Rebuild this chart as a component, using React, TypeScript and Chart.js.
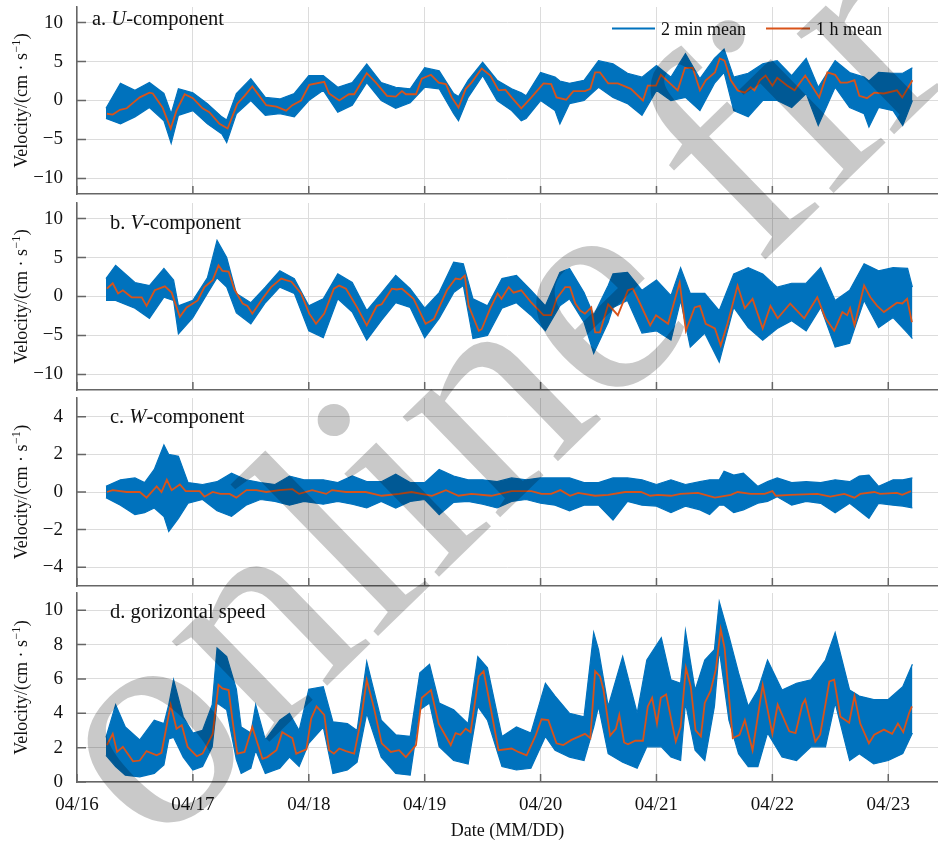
import React, { useEffect, useRef } from 'react';
import { Chart, registerables } from 'chart.js';

Chart.register(...registerables);

// ---------- axis / labels ----------
const DATE_LABELS = ['04/16', '04/17', '04/18', '04/19', '04/20', '04/21', '04/22', '04/23'];
const DATE_TICK_HOURS = [0, 24, 48, 72, 96, 120, 144, 168]; // hours since 04/16 00:00
const LEGEND_LABELS = ['2 min mean', '1 h mean'];
const X_TITLE = 'Date (MM/DD)';
const Y_TITLE_MAIN = 'Velocity/(cm \u00b7 s';
const Y_TITLE_SUP = '\u22121';
const Y_TITLE_END = ')';
const WATERMARK = 'online first';

const UV_TICKS = [-10, -5, 0, 5, 10];
const W_TICKS = [-4, -2, 0, 2, 4];
const S_TICKS = [0, 2, 4, 6, 8, 10];

// ---------- a. U-component ----------
const U_MEAN_H = [6.2,7.4,8.9,10.3,11.6,13,15,15.7,17.7,19.4,20.6,22.3,24,26,27.4,29.5,31.2,33.2,34.7,36.3,39.2,41.3,43.3,44.6,46.4,48.1,51.2,52.2,54.3,56.3,57.4,60,61.9,64.2,66,67.3,68.1,70.2,71.4,73.3,74.9,76.4,77.6,79,80.5,81.7,83.8,85.6,87.3,88.7,90,92,94.1,96.6,98.2,99.3,101.3,102.8,105.2,106.3,107.3,108.3,110,112,114.7,117.2,118.2,119.9,120.9,122.8,124.4,125.9,127.5,129,130.2,132.1,133.1,134.1,135.4,136.8,138.3,139.5,140.3,141.4,142.6,144,145,147.1,148.6,150.8,153.7,155.4,157,158.1,159.5,161,162,163.6,165.1,167.1,169.8,170.9,173];
const U_MEAN = [-1.7,-1.8,-1.2,-1.0,-0.3,0.4,1.0,0.9,-0.9,-3.6,-1.3,0.8,0.3,-1.0,-1.5,-3.0,-3.6,-0.4,0.6,1.8,-0.6,-0.8,-1.3,-0.6,0.0,2.0,2.4,0.9,0.0,0.8,0.8,3.5,2.3,0.6,0.5,1.2,0.8,0.8,2.8,3.3,2.3,2.1,0.4,-0.9,1.5,2.3,4.1,3.2,1.3,1.4,0.4,-1.0,0.4,2.2,2.1,0.4,0.1,1.2,1.2,1.5,3.6,3.6,2.2,2.2,1.5,0.0,1.9,1.9,3.3,2.2,1.3,4.2,4.2,1.3,2.6,3.6,5.4,5.1,2.6,1.3,1.0,1.7,1.3,2.6,3.2,1.9,2.9,1.9,1.3,3.2,0.4,3.6,3.3,2.3,2.3,2.6,0.6,0.3,1.0,0.9,1.3,0.4,2.6];
const U_RAW_H = [6,9,12,15,18,19.5,21,24,27,30,31,33,36,39,42,45,48,51,54,57,60,63,66,69,72,75,78,79,81,84,87,90,92,93,96,99,100,102,105,108,111,114,117,120,123,126,129,132,134,136,139,142,145,148,151,153.5,157,160,163,164,166,169,171,173];
const U_RAW_HI = [-1.0,2.2,1.3,2.3,0.9,-1.7,1.5,1.0,-0.4,-2.1,-2.5,0.9,2.8,0.4,0.2,0.9,3.2,3.2,1.7,2.3,4.7,2.3,1.7,1.5,4.2,3.8,0.9,0.5,2.6,4.9,2.6,1.5,1.0,0.6,3.6,3.0,2.5,2.2,2.6,5.1,4.7,3.5,3.0,4.5,3.0,6.0,2.8,5.4,6.6,3.0,3.5,4.7,5.1,3.2,5.4,1.7,5.1,3.6,3.0,2.5,3.6,3.5,3.5,4.2];
const U_RAW_LO = [-2.3,-3.0,-2.1,-0.9,-2.6,-5.5,-1.9,-1.3,-3.0,-4.3,-5.4,-1.7,0.0,-1.9,-1.7,-2.1,0.0,1.3,-1.5,-0.6,2.3,0.0,-1.0,-0.3,1.7,1.5,-1.7,-2.6,0.4,3.2,0.0,-1.3,-2.6,-2.3,0.0,-1.3,-3.0,-0.4,0.0,1.7,0.4,-0.4,-1.9,1.3,0.0,0.4,-1.3,2.2,3.6,-1.3,-2.1,0.0,0.0,-0.9,0.9,-3.2,1.7,-0.9,-1.7,-3.4,-0.9,-1.3,-3.2,0.0];

// ---------- b. V-component ----------
const V_MEAN_H = [6.2,7.4,8.5,9.5,11.3,13.4,14.4,16.1,18.2,19.6,21.3,22.7,25,26.4,28.1,29.3,30.1,31.4,32.6,34.3,35.3,36.3,38.4,40.2,42.3,43.3,44.4,46.4,48.1,49.5,51.2,53.2,54.3,55.7,58,60,62.1,63.1,65.2,66.2,67.3,69.7,72.2,73.9,76.6,78.4,79.4,80.3,81.1,83.2,83.8,85.6,87.1,87.9,89.4,90.4,92,94.1,96.6,98.2,99.3,101.1,102.1,103.2,104.2,105.2,106.5,107.3,108.3,110,112,114.1,115.1,116.6,118.7,119.9,122.4,124.8,126.1,127.9,129,130.2,132.1,133.3,134.7,136.8,138.3,139.9,142,143.6,145.1,147.7,150.6,153.3,155,156.8,158.5,159.5,160.1,161,163,164.3,165.7,167.1,169.8,170.9,171.9,172.9];
const V_MEAN = [1.0,1.7,0.4,0.8,-0.1,-0.1,-1.2,0.8,1.3,0.5,-2.6,-1.4,-0.5,1.2,2.1,4.0,3.3,3.2,0.9,-0.9,-1.2,-2.2,-0.3,1.2,2.3,2.1,1.9,0.4,-2.2,-3.5,-2.2,1.0,1.4,1.0,-1.4,-3.7,-1.2,-1.0,1.0,0.9,1.0,-0.3,-3.5,-2.9,0.8,2.3,2.2,2.7,-1.2,-4.4,-4.2,-1.5,0.4,-0.3,1.2,0.5,0.8,-0.8,-2.4,-2.4,-0.3,1.2,1.2,-0.9,-1.8,-2.2,-1.4,-4.6,-4.6,-1.0,-2.4,0.8,1.0,-0.9,-3.7,-2.4,-3.5,1.8,-4.4,-1.4,-1.2,-3.5,-4.1,-6.3,-3.5,1.4,-1.5,-0.3,-4.1,-1.2,-2.8,-0.9,-2.8,-0.1,-2.8,-4.4,-2.0,-2.4,-1.5,-3.7,1.4,-0.1,-1.2,-2.0,-0.8,-0.9,-0.3,-3.3];
const V_RAW_H = [6,8,12,15,18,20,21,24,27,29,31,33,36,39,42,45,48,51,54,57,60,63,66,69,72,75,78,80,82,85,88,91,94,97,100,102,105,107,110,111,114,117,120,123,125,127,130,133,136,139,142,145,148,151,154,157,160,163,166,169,172,173];
const V_RAW_HI = [2.3,4.0,1.8,1.4,3.6,2.1,-1.2,-0.5,2.4,7.2,5.0,0.4,-0.8,1.2,3.3,2.3,-1.2,-0.3,2.9,1.8,-1.8,0.4,2.7,1.0,-1.5,0.5,4.4,4.2,-0.3,-1.2,2.3,2.7,0.8,-1.2,3.1,3.6,0.5,-2.4,1.4,2.9,3.1,0.8,2.1,0.1,3.7,0.4,0.4,-1.8,2.9,3.7,2.9,1.2,1.7,1.7,3.7,-0.5,0.8,4.2,3.3,3.7,3.6,1.2];
const V_RAW_LO = [-0.5,-0.5,-1.5,-2.8,-0.1,-0.5,-4.8,-2.7,0.4,2.4,1.2,-2.1,-3.5,-0.8,1.2,0.4,-4.4,-5.3,-0.3,-2.0,-5.6,-3.1,-0.8,-1.4,-5.3,-2.8,0.5,1.4,-5.4,-5.0,-1.5,-0.8,-2.4,-4.4,-1.2,-0.3,-3.3,-7.3,-3.3,-1.4,-0.5,-4.7,-4.4,-5.6,-0.5,-6.5,-4.7,-8.4,-1.4,-4.0,-5.6,-4.1,-3.1,-4.4,-1.4,-6.5,-6.0,-0.5,-4.0,-2.7,-4.7,-5.4];

// ---------- c. W-component ----------
const W_MEAN_H = [6.2,7.4,10.3,13,14.4,16.5,17.5,18.6,19.6,21.3,22.5,25.4,26.4,28.1,29.7,31.6,33,35.1,37.1,39.2,41.9,44.6,46,48.7,51.6,52.8,55.7,59.8,63.1,66.7,69.3,73.5,76.4,79,81.7,85.8,90,94.1,96.2,98.2,100.1,102.1,103.8,107.3,110,113.5,116.8,118.7,120.3,123,125,128.6,132.1,135.4,136.8,139.5,142.4,144,144.7,147.7,153.3,156,158.9,161,162.2,165.1,166.3,169.8,170.9,172.7];
const W_MEAN = [0,0.1,0,0,-0.3,0.3,0,0.65,0.1,0.4,0.05,0.05,-0.25,0,-0.1,-0.1,-0.3,0.1,0.1,0,0.1,0.15,-0.1,0.1,-0.1,0.1,0,0,-0.2,-0.1,0,-0.2,0.1,-0.2,-0.1,-0.2,0.05,0.05,-0.1,-0.1,0.1,-0.2,-0.05,-0.2,-0.15,0,0,-0.2,-0.15,-0.2,-0.1,-0.05,-0.3,-0.15,0,-0.1,-0.1,0.05,-0.2,-0.15,-0.1,-0.25,-0.1,-0.3,-0.1,0,-0.1,-0.05,-0.15,0.05];
const W_RAW_H = [6,9,12,14,16,18,19,21,23,26,29,32,35,38,41,44,47,51,54,57,60,63,66,69,72,75,78,81,84,87,90,93,96,99,102,105,108,111,114,117,120,123,126,129,131,133,134,136,138,141,143,145,148,151,154,157,160,162,164,166,169,171,173];
const W_RAW_HI = [0.3,0.65,0.75,0.5,1.2,2.5,2.0,1.9,0.5,0.4,0.55,1.0,0.65,0.5,0.4,0.85,0.65,0.65,0.5,0.85,0.55,0.55,0.95,0.5,0.5,1.2,0.85,0.65,0.65,0.55,0.75,0.65,0.75,0.75,0.75,0.5,0.5,0.75,0.75,0.65,0.4,0.65,0.4,0.55,0.65,0.65,1.1,0.9,1.0,0.3,0.55,0.75,0.5,0.55,0.5,0.65,0.55,0.85,0.9,0.3,0.65,0.65,0.75];
const W_RAW_LO = [-0.3,-0.7,-1.2,-1.1,-0.85,-1.3,-2.1,-1.4,-0.6,-0.4,-1.0,-1.3,-0.7,-0.4,-0.5,-0.7,-0.5,-0.65,-0.5,-0.65,-0.85,-0.5,-0.85,-0.5,-0.4,-1.2,-0.55,-0.5,-0.65,-0.85,-0.5,-0.4,-0.6,-0.7,-1.0,-0.7,-0.7,-1.5,-0.5,-0.7,-0.75,-1.1,-0.75,-0.95,-1.2,-0.7,-0.7,-1.1,-0.95,-0.6,-0.5,-0.25,-0.7,-0.5,-0.6,-1.1,-0.6,-1.0,-1.4,-0.6,-0.7,-0.75,-0.85];

// ---------- d. horizontal speed ----------
const S_MEAN_H = [6.2,7.4,8.3,9.5,11.6,13,14.4,16.5,17.5,19.4,20.6,21.7,22.9,24.8,26,28.1,29.3,30.1,31.4,32.2,33.2,34.7,36.3,38.4,39.4,41.3,42.5,44,44.6,45.4,47.5,48.5,49.6,51.2,52.2,53.2,54.3,55.7,57.4,58.8,60,61.5,63.1,65,66.7,68.1,70.2,71.4,73.3,74.9,77.4,78.4,79.4,80.5,81.5,83.2,84.2,85.6,87.3,90,91.4,93.1,94.9,96.2,97.6,99.3,100.7,102.4,105.2,106.3,107.3,108.3,109,110.4,111.6,112.3,113.3,114.1,115.6,117.2,118.2,119.1,120.1,120.9,122,124,125,126.1,127.1,128.1,129.2,130,131.2,132.3,133.3,134.1,135.8,137.2,138.3,139.9,142,144,145.1,147.5,148.8,150.2,150.8,152.9,153.9,155.8,156.8,158.1,159.9,161,162.2,164,165.1,167.1,168.8,170,171.1,172.3,172.9];
const S_MEAN = [2.15,2.8,1.75,2.05,1.2,1.25,1.8,1.55,1.7,4.5,3.1,3.3,2.05,1.5,1.65,2.8,5.65,5.45,5.35,3.6,1.65,1.75,3.2,1.35,1.45,1.85,2.9,2.65,2.55,1.65,1.9,3.7,4.4,3.9,1.85,1.65,1.95,1.8,1.65,3.6,5.95,4.3,2.25,1.75,1.85,1.45,2.15,4.9,5.35,3.4,2.15,2.85,2.75,3.1,2.9,6.15,6.45,4.4,1.85,1.95,1.75,1.55,2.65,3.65,3.6,2.25,2.15,2.45,2.8,2.55,6.45,6.15,5.4,2.7,3.1,3.9,2.3,2.2,2.4,2.4,4.4,4.9,3.4,4.9,5.1,2.35,3.2,6.65,5.55,3.0,2.65,4.6,5.3,6.55,8.9,7.8,2.55,2.75,3.6,1.85,5.65,2.8,4.5,2.95,2.85,4.5,4.8,2.35,2.75,5.85,5.95,3.8,3.45,5.0,3.4,2.25,2.75,3.05,2.8,3.4,2.9,4.0,4.4];
const S_RAW_H = [6,8,10,13,16,18,19,20,22,24,26,28,29,31,33,34,36,37,39,42,44,46,48,51,53,56,58,60,63,66,69,71,73,75,78,81,83,85,88,91,94,97,99,102,105,107,108,110,113,116,118,121,123,125,126,128,130,132,133,135,137,139,141,143,146,149,152,155,157,160,162,165,168,171,173];
const S_RAW_HI = [2.6,4.5,3.2,2.45,3.6,3.4,4.5,5.95,3.8,2.85,3.0,4.5,7.8,7.3,5.4,3.2,2.85,4.5,2.45,3.6,4.0,3.0,5.4,5.55,3.5,3.4,3.0,7.0,3.6,2.75,2.65,6.35,6.85,4.6,4.2,3.4,7.3,6.65,2.65,3.2,2.85,5.75,5.0,4.0,3.8,8.7,7.7,4.4,7.3,4.0,7.1,8.4,5.95,5.75,8.8,5.35,7.1,7.7,10.5,8.5,6.35,4.4,5.35,7.1,5.35,5.75,5.95,7.1,8.7,5.35,5.0,4.8,4.8,5.55,6.85];
const S_RAW_LO = [1.55,0.9,0.4,0.3,0.5,1.0,2.5,2.6,1.45,0.7,0.9,2.05,4.6,4.2,1.3,0.5,0.8,1.85,0.5,0.8,1.45,0.9,2.25,3.2,0.5,0.7,1.15,4.0,1.45,0.5,0.4,4.2,4.6,2.05,1.25,1.05,4.4,3.6,0.9,0.7,0.8,2.65,1.85,1.45,1.25,3.2,4.4,1.65,1.15,0.8,2.05,2.05,1.45,1.25,4.6,1.85,1.25,4.4,7.7,3.6,1.65,0.9,0.9,2.85,1.45,1.25,2.05,2.05,4.6,1.25,1.65,1.05,1.25,1.65,2.85];

// ---------- styling ----------
const BLUE = '#0072BD';
const ORANGE = '#D95319';
const AXIS = '#666666';
const GRID = '#dcdcdc';
const TEXT = '#111111';
const FONT = '"Liberation Serif", "Times New Roman", Times, serif';
const X_MAX_H = 178.3;
const PAGE_W = 938;

type Part = { text: string; italic?: boolean };
type PanelCfg = {
  key: string;
  canvasTop: number;
  canvasHeight: number;
  padTop: number;
  xAxisHeight: number;
  yMin: number;
  yMax: number;
  yTicks: number[];
  title: Part[];
  titleX: number;
  titleY: number;
  legend: boolean;
  showDates: boolean;
  meanH: number[];
  mean: number[];
  rawH: number[];
  rawHi: number[];
  rawLo: number[];
};

const PANELS: PanelCfg[] = [
  { key: 'a', canvasTop: 0, canvasHeight: 198, padTop: 7, xAxisHeight: 4, yMin: -12, yMax: 12, yTicks: UV_TICKS,
    title: [{ text: 'a. ' }, { text: 'U', italic: true }, { text: '-component' }], titleX: 92, titleY: 25,
    legend: true, showDates: false, meanH: U_MEAN_H, mean: U_MEAN, rawH: U_RAW_H, rawHi: U_RAW_HI, rawLo: U_RAW_LO },
  { key: 'b', canvasTop: 198, canvasHeight: 196, padTop: 5, xAxisHeight: 4, yMin: -12, yMax: 12, yTicks: UV_TICKS,
    title: [{ text: 'b. ' }, { text: 'V', italic: true }, { text: '-component' }], titleX: 110, titleY: 229,
    legend: false, showDates: false, meanH: V_MEAN_H, mean: V_MEAN, rawH: V_RAW_H, rawHi: V_RAW_HI, rawLo: V_RAW_LO },
  { key: 'c', canvasTop: 394, canvasHeight: 195, padTop: 4, xAxisHeight: 3, yMin: -5, yMax: 5, yTicks: W_TICKS,
    title: [{ text: 'c. ' }, { text: 'W', italic: true }, { text: '-component' }], titleX: 110, titleY: 423,
    legend: false, showDates: false, meanH: W_MEAN_H, mean: W_MEAN, rawH: W_RAW_H, rawHi: W_RAW_HI, rawLo: W_RAW_LO },
  { key: 'd', canvasTop: 589, canvasHeight: 256, padTop: 4, xAxisHeight: 63, yMin: 0, yMax: 11, yTicks: S_TICKS,
    title: [{ text: 'd. gorizontal speed' }], titleX: 110, titleY: 618,
    legend: false, showDates: true, meanH: S_MEAN_H, mean: S_MEAN, rawH: S_RAW_H, rawHi: S_RAW_HI, rawLo: S_RAW_LO },
];

function pts(h: number[], v: number[]) {
  const n = Math.min(h.length, v.length);
  const out: { x: number; y: number }[] = [];
  for (let i = 0; i < n; i++) out.push({ x: h[i], y: v[i] });
  return out;
}

function fmtTick(v: number) {
  return v < 0 ? '\u2212' + Math.abs(v) : String(v);
}

function makeDecor(p: PanelCfg) {
  return {
    id: 'decor_' + p.key,
    afterDatasetsDraw(chart: any) {
      const { ctx, chartArea: ca, scales } = chart;
      const xs = scales.x;
      const ys = scales.y;
      ctx.save();
      ctx.strokeStyle = AXIS;
      ctx.lineWidth = 1.5;
      ctx.beginPath();
      for (const t of DATE_TICK_HOURS) {
        const px = xs.getPixelForValue(t);
        ctx.moveTo(px, ca.bottom);
        ctx.lineTo(px, ca.bottom - 8);
      }
      for (const t of p.yTicks) {
        const py = ys.getPixelForValue(t);
        ctx.moveTo(ca.left, py);
        ctx.lineTo(ca.left + 9, py);
      }
      ctx.stroke();
      ctx.restore();
    },
    afterDraw(chart: any) {
      const { ctx, chartArea: ca } = chart;
      ctx.save();
      ctx.fillStyle = TEXT;
      ctx.textBaseline = 'alphabetic';
      ctx.textAlign = 'left';

      // panel title
      let x = p.titleX;
      const ty = p.titleY - p.canvasTop;
      for (const part of p.title) {
        ctx.font = `${part.italic ? 'italic ' : ''}20.5px ${FONT}`;
        ctx.fillText(part.text, x, ty);
        x += ctx.measureText(part.text).width;
      }

      // y-axis title with superscript
      const cy = (ca.top + ca.bottom) / 2;
      ctx.save();
      ctx.translate(27, cy);
      ctx.rotate(-Math.PI / 2);
      ctx.font = `18px ${FONT}`;
      const w1 = ctx.measureText(Y_TITLE_MAIN).width;
      const w3 = ctx.measureText(Y_TITLE_END).width;
      ctx.font = `12px ${FONT}`;
      const w2 = ctx.measureText(Y_TITLE_SUP).width;
      let x0 = -(w1 + w2 + w3 + 1) / 2;
      ctx.font = `18px ${FONT}`;
      ctx.fillText(Y_TITLE_MAIN, x0, 0);
      x0 += w1 + 0.5;
      ctx.font = `12px ${FONT}`;
      ctx.fillText(Y_TITLE_SUP, x0, -7);
      x0 += w2 + 0.5;
      ctx.font = `18px ${FONT}`;
      ctx.fillText(Y_TITLE_END, x0, 0);
      ctx.restore();

      // legend
      if (p.legend) {
        const ly = 28.5 - p.canvasTop;
        ctx.lineWidth = 2;
        ctx.strokeStyle = BLUE;
        ctx.beginPath();
        ctx.moveTo(612, ly);
        ctx.lineTo(655, ly);
        ctx.stroke();
        ctx.strokeStyle = ORANGE;
        ctx.beginPath();
        ctx.moveTo(766, ly);
        ctx.lineTo(810, ly);
        ctx.stroke();
        ctx.font = `18px ${FONT}`;
        ctx.fillText(LEGEND_LABELS[0], 661, 35 - p.canvasTop);
        ctx.fillText(LEGEND_LABELS[1], 816, 35 - p.canvasTop);
      }

      // x-axis title
      if (p.showDates) {
        ctx.font = `18px ${FONT}`;
        ctx.textAlign = 'center';
        ctx.fillText(X_TITLE, (ca.left + ca.right) / 2, 836 - p.canvasTop);
      }

      // watermark
      ctx.translate(155, 853 - p.canvasTop);
      ctx.rotate((-44.2 * Math.PI) / 180);
      ctx.font = `305px ${FONT}`;
      ctx.textAlign = 'left';
      ctx.fillStyle = 'rgba(0,0,0,0.21)';
      ctx.fillText(WATERMARK, 0, 0);
      ctx.restore();
    },
  };
}

function Panel({ p }: { p: PanelCfg }) {
  const ref = useRef<HTMLCanvasElement | null>(null);
  useEffect(() => {
    const canvas = ref.current;
    if (!canvas) return;
    const chart = new Chart(canvas, {
      type: 'line',
      data: {
        datasets: [
          { label: LEGEND_LABELS[1], data: pts(p.meanH, p.mean), borderColor: ORANGE, borderWidth: 1.8, pointRadius: 0, fill: false, tension: 0 },
          { label: LEGEND_LABELS[0], data: pts(p.rawH, p.rawHi), borderColor: BLUE, backgroundColor: BLUE, borderWidth: 1.2, pointRadius: 0, fill: '+1', tension: 0 },
          { label: LEGEND_LABELS[0] + ' (min)', data: pts(p.rawH, p.rawLo), borderColor: BLUE, borderWidth: 1.2, pointRadius: 0, fill: false, tension: 0 },
        ],
      },
      options: {
        responsive: false,
        maintainAspectRatio: false,
        animation: false,
        devicePixelRatio: 1,
        events: [],
        parsing: false as any,
        normalized: true,
        layout: { padding: { top: p.padTop, left: 0, right: 0, bottom: 0 } },
        plugins: { legend: { display: false }, tooltip: { enabled: false }, title: { display: false } },
        scales: {
          x: {
            type: 'linear',
            position: 'bottom',
            min: 0,
            max: X_MAX_H,
            afterBuildTicks: (s: any) => {
              s.ticks = DATE_TICK_HOURS.map((v) => ({ value: v }));
            },
            afterFit: (s: any) => {
              s.height = p.xAxisHeight;
              s.paddingLeft = 0;
              s.paddingRight = 0;
            },
            grid: { color: GRID, lineWidth: 1, drawTicks: false },
            border: { color: AXIS, width: 1.5 },
            ticks: {
              display: p.showDates,
              autoSkip: false,
              maxRotation: 0,
              minRotation: 0,
              padding: 12,
              color: TEXT,
              font: { family: FONT, size: 19 },
              callback: (_v: any, i: number) => DATE_LABELS[i] ?? '',
            },
          },
          y: {
            type: 'linear',
            position: 'left',
            min: p.yMin,
            max: p.yMax,
            afterBuildTicks: (s: any) => {
              s.ticks = p.yTicks.map((v) => ({ value: v }));
            },
            afterFit: (s: any) => {
              s.width = 77;
              s.paddingTop = 0;
              s.paddingBottom = 0;
            },
            grid: { color: GRID, lineWidth: 1, drawTicks: false },
            border: { color: AXIS, width: 1.5 },
            ticks: {
              padding: 14,
              color: TEXT,
              font: { family: FONT, size: 19 },
              callback: (v: any) => fmtTick(Number(v)),
            },
          },
        },
      } as any,
      plugins: [makeDecor(p)],
    });
    return () => chart.destroy();
  }, [p]);
  return (
    <canvas
      ref={ref}
      width={PAGE_W}
      height={p.canvasHeight}
      style={{ position: 'absolute', left: 0, top: p.canvasTop, width: PAGE_W, height: p.canvasHeight, display: 'block' }}
    />
  );
}

export default function App() {
  return (
    <div style={{ position: 'fixed', left: 0, top: 0, width: PAGE_W, height: 845, background: '#ffffff', overflow: 'hidden' }}>
      {PANELS.map((p) => (
        <Panel key={p.key} p={p} />
      ))}
    </div>
  );
}
